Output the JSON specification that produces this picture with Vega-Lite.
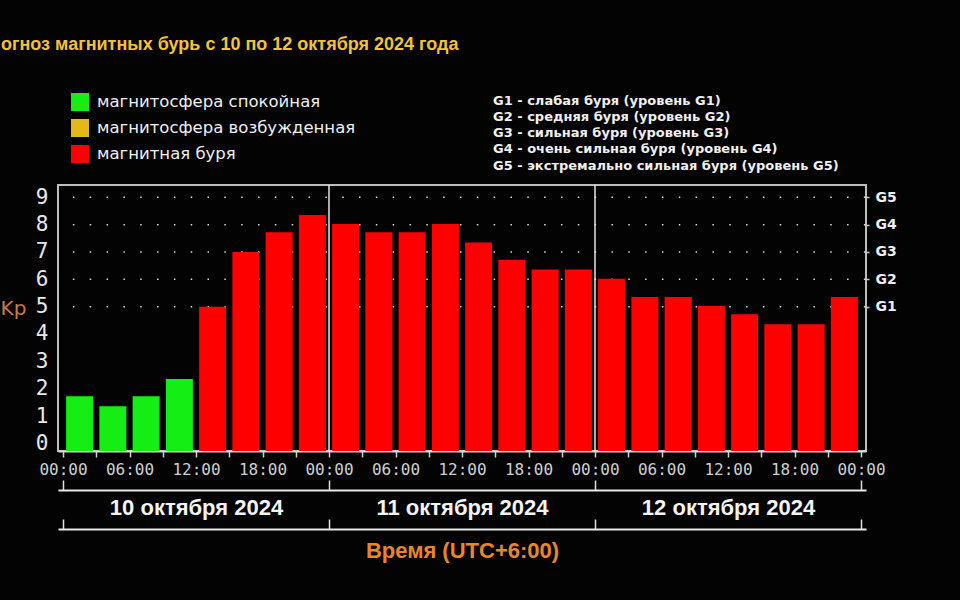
{
  "$schema": "https://vega.github.io/schema/vega-lite/v6.json",
  "width": 808,
  "height": 266,
  "autosize": "none",
  "padding": {"left": 58, "top": 185, "right": 94, "bottom": 149},
  "background": "#030303",
  "config": {
    "view": {"stroke": "#bdbdbd", "strokeWidth": 2}
  },
  "title": {
    "text": "огноз магнитных бурь с 10 по 12 октября 2024 года",
    "anchor": "start",
    "frame": "group",
    "dx": -57,
    "offset": 39,
    "font": "Liberation Sans",
    "fontSize": 18,
    "fontWeight": "bold",
    "color": "#f2c23a"
  },
  "layer": [
    {
      "data": {"values": [{"lvl": 5}, {"lvl": 6}, {"lvl": 7}, {"lvl": 8}, {"lvl": 9}]},
      "mark": {"type": "rule", "color": "#dddddd", "strokeWidth": 1.5, "strokeDash": [1.5, 15.33], "strokeDashOffset": -0.6},
      "encoding": {
        "y": {
          "field": "lvl",
          "type": "quantitative",
          "scale": {"domain": [-0.28, 9.45], "nice": false, "zero": false},
          "axis": {
            "orient": "right",
            "values": [5, 6, 7, 8, 9],
            "labelExpr": "'G' + (datum.value - 4)",
            "labelFont": "DejaVu Sans",
            "labelFontSize": 14,
            "labelFontWeight": "bold",
            "labelColor": "#eeeeee",
            "labelPadding": 6,
            "ticks": true,
            "tickSize": 3,
            "tickColor": "#cccccc",
            "tickWidth": 1.5,
            "domain": false,
            "grid": false,
            "title": null
          }
        }
      }
    },
    {
      "data": {"values": [{"h": 24}, {"h": 48}]},
      "mark": {"type": "rule", "color": "#e6e6e6", "strokeWidth": 1.5},
      "encoding": {
        "x": {
          "field": "h",
          "type": "quantitative",
          "scale": {"domain": [0, 72], "nice": false, "zero": false},
          "axis": {
            "orient": "top",
            "offset": -305,
            "values": [0, 24, 48, 72],
            "labels": false,
            "ticks": true,
            "tickSize": 10,
            "tickColor": "#e0e0e0",
            "tickWidth": 1.5,
            "domain": true,
            "domainColor": "#e8e8e8",
            "domainWidth": 2,
            "grid": false,
            "title": null
          }
        }
      }
    },
    {
      "data": {
        "values": [
          {"h": 1.5, "kp": 1.72, "state": "магнитосфера спокойная"},
          {"h": 4.5, "kp": 1.36, "state": "магнитосфера спокойная"},
          {"h": 7.5, "kp": 1.72, "state": "магнитосфера спокойная"},
          {"h": 10.5, "kp": 2.35, "state": "магнитосфера спокойная"},
          {"h": 13.5, "kp": 5.0, "state": "магнитная буря"},
          {"h": 16.5, "kp": 7.0, "state": "магнитная буря"},
          {"h": 19.5, "kp": 7.72, "state": "магнитная буря"},
          {"h": 22.5, "kp": 8.35, "state": "магнитная буря"},
          {"h": 25.5, "kp": 8.02, "state": "магнитная буря"},
          {"h": 28.5, "kp": 7.72, "state": "магнитная буря"},
          {"h": 31.5, "kp": 7.72, "state": "магнитная буря"},
          {"h": 34.5, "kp": 8.02, "state": "магнитная буря"},
          {"h": 37.5, "kp": 7.35, "state": "магнитная буря"},
          {"h": 40.5, "kp": 6.72, "state": "магнитная буря"},
          {"h": 43.5, "kp": 6.36, "state": "магнитная буря"},
          {"h": 46.5, "kp": 6.36, "state": "магнитная буря"},
          {"h": 49.5, "kp": 6.02, "state": "магнитная буря"},
          {"h": 52.5, "kp": 5.35, "state": "магнитная буря"},
          {"h": 55.5, "kp": 5.35, "state": "магнитная буря"},
          {"h": 58.5, "kp": 5.02, "state": "магнитная буря"},
          {"h": 61.5, "kp": 4.72, "state": "магнитная буря"},
          {"h": 64.5, "kp": 4.36, "state": "магнитная буря"},
          {"h": 67.5, "kp": 4.36, "state": "магнитная буря"},
          {"h": 70.5, "kp": 5.35, "state": "магнитная буря"}
        ]
      },
      "mark": {"type": "bar", "width": 27},
      "encoding": {
        "x": {
          "field": "h",
          "type": "quantitative",
          "scale": {"domain": [0, 72], "nice": false, "zero": false},
          "axis": {
            "orient": "bottom",
            "title": null,
            "values": [0, 3, 6, 9, 12, 15, 18, 21, 24, 27, 30, 33, 36, 39, 42, 45, 48, 51, 54, 57, 60, 63, 66, 69, 72],
            "labelExpr": "datum.value % 6 === 0 ? ((datum.value % 24) < 10 ? '0' : '') + (datum.value % 24) + ':00' : ''",
            "labelFont": "DejaVu Sans Mono",
            "labelFontSize": 16,
            "labelColor": "#d0d0d0",
            "labelFlush": false,
            "labelOverlap": false,
            "labelPadding": 4,
            "ticks": true,
            "tickColor": "#d0d0d0",
            "tickWidth": 1.5,
            "tickSize": 6,
            "domain": true,
            "domainColor": "#d8d8d8",
            "domainWidth": 2,
            "grid": false
          }
        },
        "y": {
          "field": "kp",
          "type": "quantitative",
          "scale": {"domain": [-0.28, 9.45], "nice": false, "zero": false},
          "axis": {
            "orient": "left",
            "values": [0, 1, 2, 3, 4, 5, 6, 7, 8, 9],
            "labelFont": "DejaVu Sans Mono",
            "labelFontSize": 21,
            "labelColor": "#e8e8e8",
            "labelPadding": 10,
            "ticks": false,
            "domain": false,
            "grid": false,
            "title": "Kp",
            "titleAngle": 0,
            "titleFont": "DejaVu Sans",
            "titleFontSize": 20,
            "titleFontWeight": "normal",
            "titleColor": "#c87a4a",
            "titleX": -45,
            "titleY": 123,
            "titleAlign": "center",
            "titleBaseline": "middle"
          }
        },
        "y2": {"datum": -0.28},
        "color": {
          "field": "state",
          "type": "nominal",
          "scale": {
            "domain": ["магнитосфера спокойная", "магнитосфера возбужденная", "магнитная буря"],
            "range": ["#14ee14", "#e2b81a", "#ff0000"]
          },
          "legend": {
            "orient": "none",
            "legendX": 13,
            "legendY": -92,
            "direction": "vertical",
            "title": null,
            "symbolType": "square",
            "symbolSize": 324,
            "symbolStrokeWidth": 0,
            "labelFont": "DejaVu Sans",
            "labelFontSize": 16.5,
            "labelColor": "#f0f0f0",
            "labelOffset": 8,
            "labelLimit": 400,
            "rowPadding": 8
          }
        }
      }
    },
    {
      "data": {"values": [{"h": 12}, {"h": 36}, {"h": 60}]},
      "mark": {"type": "point", "opacity": 0},
      "encoding": {
        "x": {
          "field": "h",
          "type": "quantitative",
          "scale": {"domain": [0, 72], "nice": false, "zero": false},
          "axis": {
            "orient": "top",
            "offset": -344,
            "values": [0, 24, 48, 72],
            "labels": false,
            "ticks": true,
            "tickSize": 10,
            "tickColor": "#e0e0e0",
            "tickWidth": 1.5,
            "domain": true,
            "domainColor": "#e8e8e8",
            "domainWidth": 2,
            "grid": false,
            "title": null
          }
        }
      }
    },
    {
      "data": {"values": [{"h": 12}, {"h": 36}, {"h": 60}]},
      "mark": {"type": "point", "opacity": 0},
      "encoding": {
        "x": {
          "field": "h",
          "type": "quantitative",
          "scale": {"domain": [0, 72], "nice": false, "zero": false},
          "axis": {
            "orient": "bottom",
            "offset": 0,
            "values": [12, 36, 60],
            "labelExpr": "(10 + floor(datum.value / 24)) + ' октября 2024'",
            "labelFont": "Liberation Sans",
            "labelFontSize": 22,
            "labelFontWeight": "bold",
            "labelColor": "#f4f4f4",
            "labelPadding": 46,
            "labelFlush": false,
            "labelOverlap": false,
            "ticks": false,
            "domain": false,
            "grid": false,
            "title": "Время (UTC+6:00)",
            "titleFont": "Liberation Sans",
            "titleFontSize": 22,
            "titleFontWeight": "bold",
            "titleColor": "#e8862e",
            "titlePadding": 22
          }
        }
      }
    },
    {
      "data": {
        "values": [
          {"g": "G1 - слабая буря (уровень G1)"},
          {"g": "G2 - средняя буря (уровень G2)"},
          {"g": "G3 - сильная буря (уровень G3)"},
          {"g": "G4 - очень сильная буря (уровень G4)"},
          {"g": "G5 - экстремально сильная буря (уровень G5)"}
        ]
      },
      "mark": {"type": "point", "opacity": 0},
      "encoding": {
        "shape": {
          "field": "g",
          "type": "nominal",
          "legend": {
            "orient": "none",
            "legendX": 422,
            "legendY": -91,
            "direction": "vertical",
            "title": null,
            "symbolSize": 1,
            "symbolOpacity": 0,
            "labelOffset": 0,
            "labelFont": "DejaVu Sans",
            "labelFontSize": 13,
            "labelFontWeight": "bold",
            "labelColor": "#f0f0f0",
            "labelLimit": 500,
            "rowPadding": 2.3
          }
        }
      }
    }
  ],
  "resolve": {"axis": {"x": "independent", "y": "independent"}}
}
